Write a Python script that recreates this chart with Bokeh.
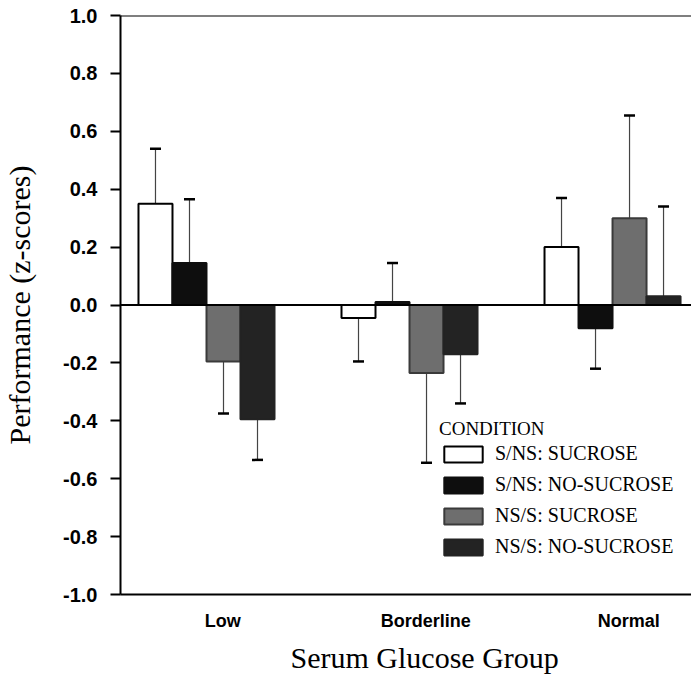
from bokeh.plotting import figure
from bokeh.models import (FixedTicker, PrintfTickFormatter, Span, Legend,
                          LegendItem, Range1d, ColumnDataSource, Title)
from bokeh.embed import file_html
from bokeh.resources import INLINE

# ---------------- data ----------------
groups = ["Low", "Borderline", "Normal"]
conditions = ["S/NS: SUCROSE", "S/NS: NO-SUCROSE", "NS/S: SUCROSE", "NS/S: NO-SUCROSE"]

sns_sucrose = [0.35, -0.045, 0.20]
sns_sucrose_err = [0.19, 0.15, 0.17]
sns_nosucrose = [0.145, 0.01, -0.08]
sns_nosucrose_err = [0.22, 0.135, 0.14]
nss_sucrose = [-0.195, -0.235, 0.30]
nss_sucrose_err = [0.18, 0.31, 0.355]
nss_nosucrose = [-0.395, -0.17, 0.03]
nss_nosucrose_err = [0.14, 0.17, 0.31]

y_ticks = [-1.0, -0.8, -0.6, -0.4, -0.2, 0.0, 0.2, 0.4, 0.6, 0.8, 1.0]

x_title = "Serum Glucose Group"
y_title = "Performance (z-scores)"

series = [
    (sns_sucrose, sns_sucrose_err),
    (sns_nosucrose, sns_nosucrose_err),
    (nss_sucrose, nss_sucrose_err),
    (nss_nosucrose, nss_nosucrose_err),
]

# ---------------- style ----------------
fills = ["#ffffff", "#0e0e0e", "#6e6e6e", "#232323"]
lines = ["#000000", "#0e0e0e", "#3a3a3a", "#232323"]
bar_w = 0.1675
label_shift = 0.08

p = figure(width=691, height=679, output_backend="svg", toolbar_location=None,
           x_range=Range1d(-0.4236, 2.389), y_range=Range1d(-1.0, 1.0),
           min_border_left=120, min_border_right=0, min_border_top=15,
           min_border_bottom=85)
p.outline_line_color = None
p.grid.visible = False
p.background_fill_color = "white"

items = []
for i, ((vals, errs), cond) in enumerate(zip(series, conditions)):
    xs = [g + (i - 1.5) * bar_w for g in range(len(groups))]
    ends = [v + (e if v >= 0 else -e) for v, e in zip(vals, errs)]
    src = ColumnDataSource(dict(x=xs, top=vals, end=ends))
    # error stem
    p.segment(x0="x", y0="top", x1="x", y1="end", source=src,
              line_color="#444444", line_width=1.2)
    # error cap
    p.scatter(x="x", y="end", source=src, marker="dash", size=11,
              line_color="#000000", line_width=2.5)
    r = p.vbar(x="x", top="top", bottom=0, width=bar_w, source=src,
               fill_color=fills[i], line_color=lines[i], line_width=2)
    items.append(LegendItem(label=cond, renderers=[r]))

# frame lines
p.add_layout(Span(location=0, dimension="width", line_color="black", line_width=2))
p.add_layout(Span(location=1.0, dimension="width", line_color="black", line_width=2))

# y axis
p.yaxis.ticker = FixedTicker(ticks=y_ticks)
p.yaxis.formatter = PrintfTickFormatter(format="%.1f")
p.yaxis.minor_tick_line_color = None
p.yaxis.major_tick_in = 0
p.yaxis.major_tick_out = 10
p.yaxis.major_tick_line_width = 2
p.yaxis.axis_line_width = 2
p.yaxis.major_label_text_font = "Liberation Sans"
p.yaxis.major_label_text_font_style = "bold"
p.yaxis.major_label_text_font_size = "20px"
p.yaxis.major_label_text_color = "black"
p.yaxis.major_label_standoff = 13
p.yaxis.axis_label = y_title
p.yaxis.axis_label_text_font = "Liberation Serif"
p.yaxis.axis_label_text_font_style = "normal"
p.yaxis.axis_label_text_font_size = "30px"
p.yaxis.axis_label_text_color = "black"
p.yaxis.axis_label_standoff = 24

# x axis
p.xaxis.ticker = FixedTicker(ticks=[g + label_shift for g in range(len(groups))])
p.xaxis.major_label_overrides = {g + label_shift: name for g, name in enumerate(groups)}
p.xaxis.minor_tick_line_color = None
p.xaxis.major_tick_line_color = None
p.xaxis.axis_line_width = 2
p.xaxis.major_label_text_font = "Liberation Sans"
p.xaxis.major_label_text_font_style = "bold"
p.xaxis.major_label_text_font_size = "18px"
p.xaxis.major_label_text_color = "black"
p.xaxis.major_label_standoff = 10

# x title below the axis, shifted right like the original
p.add_layout(Title(text=x_title, align="left", offset=170, standoff=11,
                   text_font="Liberation Serif", text_font_size="30px",
                   text_font_style="normal", text_color="black"), "below")

legend = Legend(items=items, location=(319, 36), title="CONDITION",
                glyph_width=48, glyph_height=20, spacing=8, padding=0, margin=0,
                label_standoff=8, label_height=20,
                border_line_color=None, background_fill_alpha=0,
                label_text_font="Liberation Serif", label_text_font_size="20px",
                label_text_color="black",
                title_text_font="Liberation Serif", title_text_font_size="19px",
                title_text_font_style="normal", title_text_color="black",
                title_standoff=2)
p.add_layout(legend)

open("out.html", "w").write(file_html(p, INLINE))
